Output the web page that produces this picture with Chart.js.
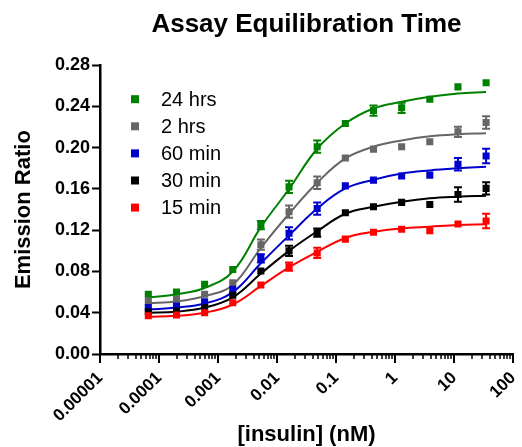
<!DOCTYPE html>
<html>
<head>
<meta charset="utf-8">
<title>Assay Equilibration Time</title>
<script src="https://cdn.jsdelivr.net/npm/chart.js@4.4.1/dist/chart.umd.min.js"></script>
<style>
  html, body { margin: 0; padding: 0; background: #fff; }
  canvas { display: block; }
</style>
</head>
<body>
<canvas id="assayChart" width="522" height="447"></canvas>
<script>
// insulin concentrations (nM), 3-fold dilution series
const concentrations = [0.0000659, 0.000198, 0.000593, 0.00178, 0.00533, 0.016, 0.048, 0.144, 0.432, 1.296, 3.889, 11.67, 35];

const seriesNames = ['24 hrs', '2 hrs', '60 min', '30 min', '15 min'];
const seriesColors = ['#008000', '#666666', '#0000cc', '#000000', '#ff0000'];

// measured emission ratios
const ratio24h  = [0.058, 0.060, 0.0675, 0.082, 0.125, 0.162, 0.201, 0.2235, 0.236, 0.2387, 0.247, 0.259, 0.263];
const ratio2h   = [0.0514, 0.053, 0.058, 0.069, 0.106, 0.138, 0.166, 0.190, 0.1986, 0.201, 0.2057, 0.2154, 0.2245];
const ratio60m  = [0.045, 0.0465, 0.0507, 0.0627, 0.0927, 0.117, 0.141, 0.163, 0.1686, 0.1725, 0.1734, 0.184, 0.192];
const ratio30m  = [0.041, 0.0417, 0.045, 0.057, 0.0804, 0.100, 0.1176, 0.137, 0.1427, 0.147, 0.145, 0.1547, 0.1606];
const ratio15m  = [0.037, 0.0378, 0.040, 0.0497, 0.0669, 0.0846, 0.098, 0.1114, 0.118, 0.121, 0.1195, 0.126, 0.129];

// error bar half-heights (0 = none visible)
const err24h = [0, 0, 0, 0, 0.004, 0.006, 0.006, 0, 0.005, 0.005, 0, 0, 0];
const err2h  = [0, 0, 0, 0, 0.005, 0.006, 0.006, 0, 0, 0, 0, 0.005, 0.006];
const err60m = [0, 0, 0, 0, 0.004, 0.006, 0.006, 0, 0, 0, 0, 0.006, 0.007];
const err30m = [0, 0, 0, 0, 0, 0.005, 0.004, 0, 0, 0, 0, 0.007, 0.006];
const err15m = [0, 0, 0, 0, 0, 0.004, 0.005, 0, 0, 0, 0, 0, 0.007];

// fitted curve read at the same concentrations
const fit24h = [0.0546, 0.058, 0.064, 0.080, 0.123, 0.160, 0.199, 0.2235, 0.238, 0.2445, 0.2494, 0.2526, 0.254];
const fit2h  = [0.049, 0.051, 0.056, 0.067, 0.103, 0.136, 0.166, 0.1896, 0.201, 0.207, 0.211, 0.213, 0.214];
const fit60m = [0.043, 0.045, 0.049, 0.060, 0.088, 0.115, 0.141, 0.1605, 0.169, 0.175, 0.178, 0.180, 0.1815];
const fit30m = [0.040, 0.041, 0.045, 0.055, 0.078, 0.100, 0.119, 0.136, 0.1427, 0.1476, 0.151, 0.1525, 0.1534];
const fit15m = [0.036, 0.037, 0.040, 0.048, 0.066, 0.084, 0.099, 0.1125, 0.1185, 0.1218, 0.1234, 0.125, 0.1257];

const xDecades = [0.00001, 0.0001, 0.001, 0.01, 0.1, 1, 10, 100];
const xTickLabels = ['0.00001', '0.0001', '0.001', '0.01', '0.1', '1', '10', '100'];
const yTickValues = [0, 0.04, 0.08, 0.12, 0.16, 0.20, 0.24, 0.28];

const FONT = '"Liberation Sans", Arial, Helvetica, sans-serif';

const measured = [ratio24h, ratio2h, ratio60m, ratio30m, ratio15m];
const errors = [err24h, err2h, err60m, err30m, err15m];
const fits = [fit24h, fit2h, fit60m, fit30m, fit15m];

const toPoints = (vals) => vals.map((v, i) => ({ x: concentrations[i], y: v }));

const datasets = [];
// draw bottom series first so green ends on top
for (let i = seriesNames.length - 1; i >= 0; i--) {
    datasets.push({
        label: seriesNames[i] + ' fit',
        data: toPoints(fits[i]),
        borderColor: seriesColors[i],
        borderWidth: 2,
        pointRadius: 0,
        fill: false,
        tension: 0.4
    });
    datasets.push({
        label: seriesNames[i],
        data: toPoints(measured[i]),
        showLine: false,
        pointStyle: 'rect',
        pointRadius: 5,
        pointBorderWidth: 0,
        pointBackgroundColor: seriesColors[i],
        backgroundColor: seriesColors[i],
        borderColor: seriesColors[i],
        errors: errors[i]
    });
}

// error bars with caps
const errorBars = {
    id: 'errorBars',
    afterDatasetsDraw(chart) {
        const { ctx, scales: { x, y } } = chart;
        ctx.save();
        chart.data.datasets.forEach((ds) => {
            if (!ds.errors) return;
            ctx.strokeStyle = ds.borderColor;
            ctx.lineWidth = 2;
            ds.data.forEach((p, i) => {
                const e = ds.errors[i];
                if (!e) return;
                const px = x.getPixelForValue(p.x);
                const top = y.getPixelForValue(p.y + e);
                const bot = y.getPixelForValue(p.y - e);
                ctx.beginPath();
                ctx.moveTo(px, top); ctx.lineTo(px, bot);
                ctx.moveTo(px - 4, top); ctx.lineTo(px + 4, top);
                ctx.moveTo(px - 4, bot); ctx.lineTo(px + 4, bot);
                ctx.stroke();
            });
        });
        ctx.restore();
    }
};

// x axis tick marks: long at decades, short in between
const logTicks = {
    id: 'logTicks',
    afterDraw(chart) {
        const { ctx, scales: { x }, chartArea } = chart;
        ctx.save();
        ctx.strokeStyle = '#000';
        x.ticks.forEach((t) => {
            const major = xDecades.some(d => Math.abs(d - t.value) / d < 1e-6);
            const px = Math.round(x.getPixelForValue(t.value));
            ctx.lineWidth = major ? 2 : 1.5;
            ctx.beginPath();
            ctx.moveTo(px, chartArea.bottom);
            ctx.lineTo(px, chartArea.bottom + (major ? 9 : 5));
            ctx.stroke();
        });
        ctx.restore();
    }
};

// legend in the top-left of the plot
const insideLegend = {
    id: 'insideLegend',
    afterDraw(chart) {
        const { ctx, chartArea } = chart;
        ctx.save();
        ctx.font = '20px ' + FONT;
        ctx.textBaseline = 'middle';
        ctx.textAlign = 'left';
        seriesNames.forEach((name, i) => {
            const cy = chartArea.top + 34 + i * 27.1;
            ctx.fillStyle = seriesColors[i];
            ctx.fillRect(chartArea.left + 31, cy - 4, 8, 8);
            ctx.fillStyle = '#000';
            ctx.fillText(name, chartArea.left + 61, cy + 1);
        });
        ctx.restore();
    }
};

new Chart(document.getElementById('assayChart'), {
    type: 'line',
    data: { datasets: datasets },
    options: {
        responsive: false,
        animation: false,
        events: [],
        layout: { padding: { left: 0, right: 9, top: 0, bottom: 0 } },
        scales: {
            x: {
                type: 'logarithmic',
                min: 0.00001,
                max: 100,
                afterBuildTicks: (scale) => {
                    const ticks = [];
                    xDecades.forEach((d, i) => {
                        ticks.push({ value: d });
                        if (i < xDecades.length - 1) {
                            for (let m = 2; m <= 9; m++) ticks.push({ value: d * m });
                        }
                    });
                    scale.ticks = ticks;
                },
                afterFit: (scale) => {
                    scale.height = 93;
                    scale.paddingLeft = 0;
                    scale.paddingRight = 0;
                },
                grid: { display: false, drawTicks: false },
                border: { display: true, color: '#000', width: 2.5 },
                ticks: {
                    autoSkip: false,
                    minRotation: 45,
                    maxRotation: 45,
                    padding: 14,
                    color: '#000',
                    font: { family: FONT, size: 17, weight: 'bold' },
                    callback: (v) => {
                        const i = xDecades.findIndex(d => Math.abs(d - v) / d < 1e-6);
                        return i >= 0 ? xTickLabels[i] : '';
                    }
                },
                title: {
                    display: true,
                    text: '[insulin] (nM)',
                    color: '#000',
                    font: { family: FONT, size: 22, weight: 'bold' },
                    padding: { top: 0, bottom: -1 }
                }
            },
            y: {
                min: 0,
                max: 0.28,
                afterBuildTicks: (scale) => { scale.ticks = yTickValues.map(v => ({ value: v })); },
                afterFit: (scale) => {
                    scale.width = 100;
                    scale.paddingTop = 0;
                    scale.paddingBottom = 0;
                },
                grid: {
                    drawOnChartArea: false,
                    drawTicks: true,
                    tickLength: 8,
                    tickWidth: 2,
                    tickColor: '#000'
                },
                border: { display: true, color: '#000', width: 2.5 },
                ticks: {
                    padding: 2,
                    color: '#000',
                    font: { family: FONT, size: 18, weight: 'bold' },
                    callback: (v) => Number(v).toFixed(2)
                },
                title: {
                    display: true,
                    text: 'Emission Ratio',
                    color: '#000',
                    font: { family: FONT, size: 22, weight: 'bold' },
                    padding: { top: 11, bottom: 0 }
                }
            }
        },
        plugins: {
            legend: { display: false },
            tooltip: { enabled: false },
            title: {
                display: true,
                text: 'Assay Equilibration Time',
                color: '#000',
                fullSize: false,
                font: { family: FONT, size: 26, weight: 'bold' },
                padding: { top: 9, bottom: 25 }
            }
        }
    },
    plugins: [errorBars, logTicks, insideLegend]
});
</script>
</body>
</html>
